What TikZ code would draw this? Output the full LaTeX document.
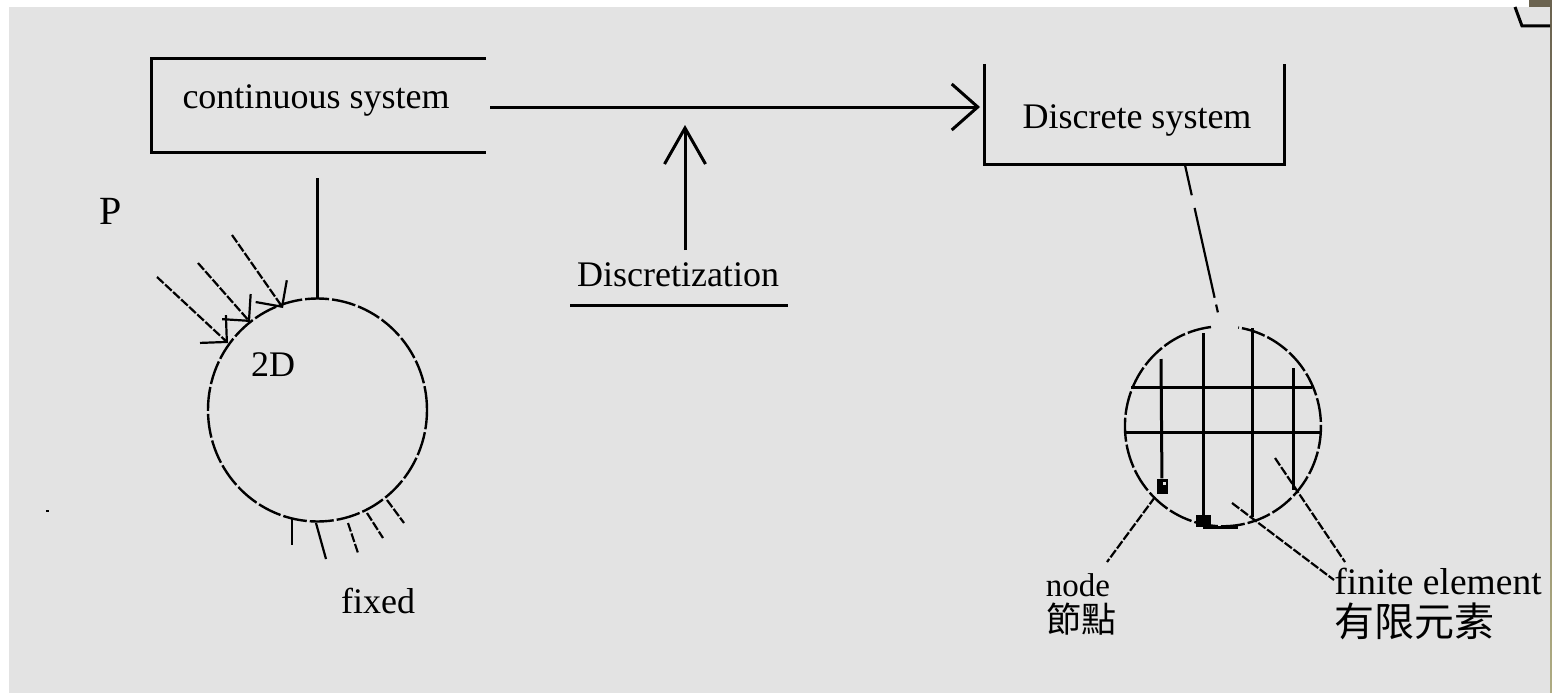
\documentclass[tikz,border=0pt]{standalone}
\usepackage{fontspec}
\setmainfont{Liberation Serif}
\newfontfamily\cjk{Noto Sans CJK TC}
\usetikzlibrary{arrows.meta,shapes.geometric}
\definecolor{panelgray}{HTML}{E3E3E3}
\definecolor{striptop}{HTML}{6B6350}
\definecolor{stripbot}{HTML}{AEAB82}
\tikzset{
  lab/.style={inner sep=0pt,font=\fontsize{36}{40}\selectfont},
  cjklab/.style={inner sep=0pt,font=\cjk\fontsize{40}{44}\selectfont},
  solidline/.style={line width=3pt},
  sketch/.style={line width=2.4pt,dash pattern=on 24pt off 3pt},
  brokenline/.style={line width=2.2pt,dash pattern=on 9pt off 2pt},
  bigbarb/.style={-{Straight Barb[length=26pt,width=46pt]}},
  upbarb/.style={-{Straight Barb[length=36pt,width=41pt]}},
  loadbarb/.style={-{Straight Barb[length=19pt,width=38pt]}},
}
\begin{document}
\begin{tikzpicture}[x=1pt,y=-1pt]
      \useasboundingbox (0,0) rectangle (1552,693);
      \fill[white] (0,0) rectangle (1552,693);
      \fill[panelgray] (9,7) rectangle (1550,693);
      \fill[striptop] (1529,0) rectangle (1552,7);
      \shade[top color=striptop,bottom color=stripbot] (1550,7) rectangle (1552,693);
      \fill (46,510) rectangle (49,512);
      \draw
        (316,100) node[lab] (conttext){continuous system}
        (1137,120) node[lab] (disctext){Discrete system}
        (678,275) node[lab] (methodtext){Discretization}
        (111,211) node[lab,font=\fontsize{40}{44}\selectfont] (ptext){P}
        (273,365) node[lab] (dimtext){2D}
        (378,601) node[lab] (fixedtext){fixed}
        (1078,585) node[lab,font=\fontsize{33}{38}\selectfont] (nodetext){node}
        (1081,619) node[cjklab,font=\cjk\fontsize{35}{40}\selectfont] (nodecjk){節點}
        (1438,581) node[lab,font=\fontsize{37.5}{42}\selectfont] (elemtext){finite element}
        (1414,621) node[cjklab] (elemcjk){有限元素};
      \draw
        (317.5,410) node[ellipse,sketch,draw,inner sep=0pt,outer sep=0pt,minimum width=219pt,minimum height=223pt] (plate){}
        (1162,486) node[fill=black,inner sep=0pt,minimum width=11pt,minimum height=15pt] (meshnodea){}
        (1203,521) node[fill=black,inner sep=0pt,minimum width=15pt,minimum height=12pt] (meshnodeb){};
      \fill[panelgray] (1163,482) rectangle (1166,485);
      \draw[sketch] (1211,327) arc[start angle=97,end angle=441,x radius=98pt,y radius=100pt];
      % box corners and free ends
      \draw
        (486,59) coordinate (contne)
        (151,59) coordinate (contnw)
        (151,152) coordinate (contsw)
        (486,152) coordinate (contse)
        (984,64) coordinate (discnw)
        (984,164) coordinate (discsw)
        (1284,164) coordinate (discse)
        (1284,64) coordinate (discne)
        (490,107) coordinate (flowa)
        (980,107) coordinate (flowb)
        (685,250) coordinate (upa)
        (685,125) coordinate (upb)
        (570,305) coordinate (rulea)
        (788,305) coordinate (ruleb)
        (317.5,178) coordinate (dropa)
        (1185,165) coordinate (dropb)
        (1218,313) coordinate (dropc);
      \begin{scope}[solidline]
        \draw (contne) -- (contnw) -- (contsw) -- (contse);
        \draw (discnw) -- (discsw) -- (discse) -- (discne);
        \draw[bigbarb] (flowa) to (flowb);
        \draw[upbarb] (upa) to (upb);
        \draw (rulea) to (ruleb);
        \draw (dropa) to (plate.north);
      \end{scope}
      \draw[brokenline,dash pattern=on 31pt off 13pt on 92pt off 7pt on 8pt off 20pt] (dropb) to (dropc);
      % mesh
      \draw
        (1131,387) coordinate (rowal)
        (1312,387) coordinate (rowar)
        (1125,432) coordinate (rowbl)
        (1322,432) coordinate (rowbr)
        (1161,359) coordinate (colat)
        (1203,333) coordinate (colbt)
        (1252,328) coordinate (colct)
        (1252,517) coordinate (colcb)
        (1293,368) coordinate (coldt)
        (1293,490) coordinate (coldb)
        (1238,526) coordinate (floorb);
      \begin{scope}[solidline]
        \draw (rowal) to (rowar);
        \draw (rowbl) to (rowbr);
        \draw (colat) to (meshnodea);
        \draw (colbt) to (meshnodeb);
        \draw (colct) to (colcb);
        \draw (coldt) to (coldb);
        \draw (meshnodeb.south) to (floorb |- meshnodeb.south);
      \end{scope}
      % leaders
      \draw
        (1155,497) coordinate (leada)
        (1107,562) coordinate (leadb)
        (1232,503) coordinate (leadc)
        (1334,580) coordinate (leadd)
        (1275,458) coordinate (leade)
        (1345,562) coordinate (leadf);
      \begin{scope}[brokenline]
        \draw (leada) to (leadb);
        \draw (leadc) to (leadd);
        \draw (leade) to (leadf);
      \end{scope}
      % loads
      \draw
        (157,277) coordinate (loadas)
        (228,343) coordinate (loadae)
        (198,263) coordinate (loadbs)
        (250,322) coordinate (loadbe)
        (232,235) coordinate (loadcs)
        (283,308) coordinate (loadce);
      \begin{scope}[brokenline]
        \draw[loadbarb] (loadas) to (loadae);
        \draw[loadbarb] (loadbs) to (loadbe);
        \draw[loadbarb] (loadcs) to (loadce);
      \end{scope}
      % fixed edge
      \draw
        (292,518) coordinate (hatchat)
        (292,545) coordinate (hatchab)
        (316,523) coordinate (hatchbt)
        (326,559) coordinate (hatchbb)
        (348,523) coordinate (hatchct)
        (358,553) coordinate (hatchcb)
        (367,513) coordinate (hatchdt)
        (383,538) coordinate (hatchdb)
        (387,500) coordinate (hatchet)
        (404,523) coordinate (hatcheb);
      \begin{scope}[brokenline]
        \draw[solid] (hatchat) to (hatchab);
        \draw[solid] (hatchbt) to (hatchbb);
        \draw (hatchct) to (hatchcb);
        \draw (hatchdt) to (hatchdb);
        \draw (hatchet) to (hatcheb);
      \end{scope}
      % corner mark
      \draw[solidline] (1515,7) -- (1522,26) -- (1550,26);
    \end{tikzpicture}
\end{document}
